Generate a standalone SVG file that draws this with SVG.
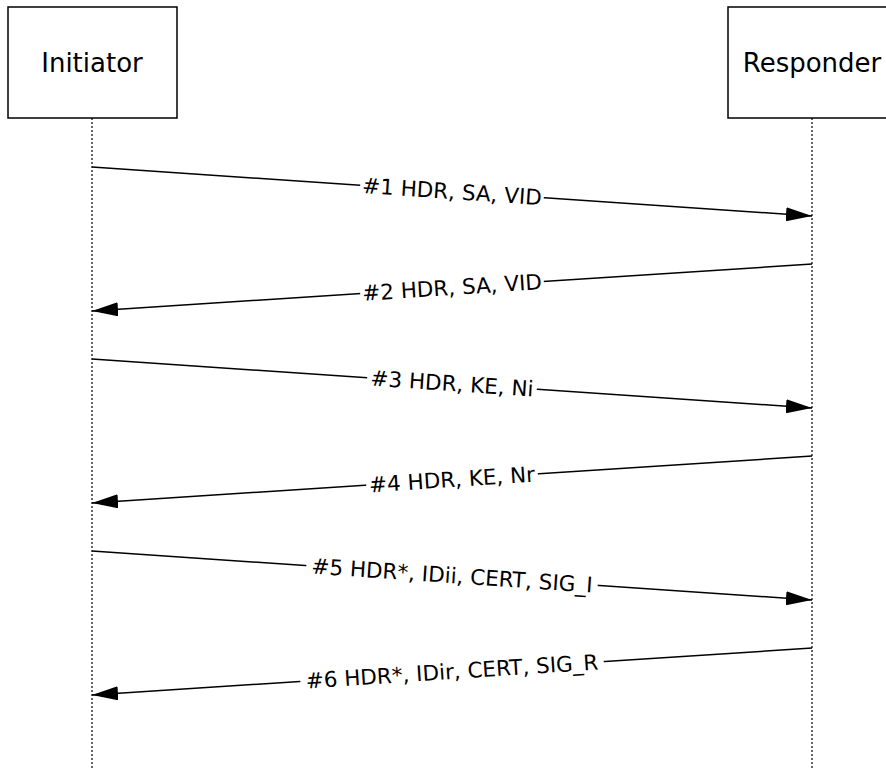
<svg xmlns="http://www.w3.org/2000/svg" width="886" height="768" viewBox="0 0 886 768">
<style>
.box{fill:#fff;stroke:#000;stroke-width:1.5}
.life{stroke:#333;stroke-width:1.5;stroke-dasharray:2,2;fill:none}
.msg{stroke:#000;stroke-width:1.5;fill:none;marker-end:url(#arr)}
.lbl{font-family:"DejaVu Sans",Verdana,sans-serif;font-size:21.5px;fill:#000;text-anchor:middle}
.nm{font-family:"DejaVu Sans",Verdana,sans-serif;font-size:26px;fill:#000;text-anchor:middle}
.bg{fill:#fff}
</style>
<defs>
<marker id="arr" markerWidth="26" markerHeight="14" refX="26" refY="7" orient="auto" markerUnits="userSpaceOnUse">
<path d="M0,0 L26,7 L0,14 Z" fill="#000"/>
</marker>
</defs>
<rect width="886" height="768" fill="#fff"/>
<g id="lifelines">
<line class="life" x1="92" y1="118" x2="92" y2="768"/>
<line class="life" x1="812" y1="118" x2="812" y2="768"/>
</g>
<g id="initiator">
<rect class="box" x="8" y="7" width="169" height="111"/>
<text class="nm" x="92" y="72">Initiator</text>
</g>
<g id="responder">
<rect class="box" x="728" y="7" width="170" height="111"/>
<text class="nm" x="812" y="72">Responder</text>
</g>
<g id="connectors">
<g id="m1">
<line class="msg" x1="92" y1="167" x2="812" y2="216"/>
<g transform="translate(452,191.5) rotate(3.89)"><rect class="bg" x="-92" y="-11" width="184" height="22"/><text class="lbl" y="7.5">#1 HDR, SA, VID</text></g>
</g>
<g id="m2">
<line class="msg" x1="812" y1="264" x2="92" y2="311"/>
<g transform="translate(452,287.5) rotate(-3.73)"><rect class="bg" x="-92" y="-11" width="184" height="22"/><text class="lbl" y="7.5">#2 HDR, SA, VID</text></g>
</g>
<g id="m3">
<line class="msg" x1="92" y1="359" x2="812" y2="408"/>
<g transform="translate(452,383.5) rotate(3.89)"><rect class="bg" x="-85" y="-11" width="170" height="22"/><text class="lbl" y="7.5">#3 HDR, KE, Ni</text></g>
</g>
<g id="m4">
<line class="msg" x1="812" y1="456" x2="92" y2="503"/>
<g transform="translate(452,479.5) rotate(-3.73)"><rect class="bg" x="-86" y="-11" width="172" height="22"/><text class="lbl" y="7.5">#4 HDR, KE, Nr</text></g>
</g>
<g id="m5">
<line class="msg" x1="92" y1="551" x2="812" y2="600"/>
<g transform="translate(452,575.5) rotate(3.89)"><rect class="bg" x="-146" y="-11" width="292" height="22"/><text class="lbl" y="7.5">#5 HDR*, IDii, CERT, SIG_I</text></g>
</g>
<g id="m6">
<line class="msg" x1="812" y1="648" x2="92" y2="695"/>
<g transform="translate(452,671.5) rotate(-3.73)"><rect class="bg" x="-152" y="-11" width="304" height="22"/><text class="lbl" y="7.5">#6 HDR*, IDir, CERT, SIG_R</text></g>
</g>
</g>
</svg>
